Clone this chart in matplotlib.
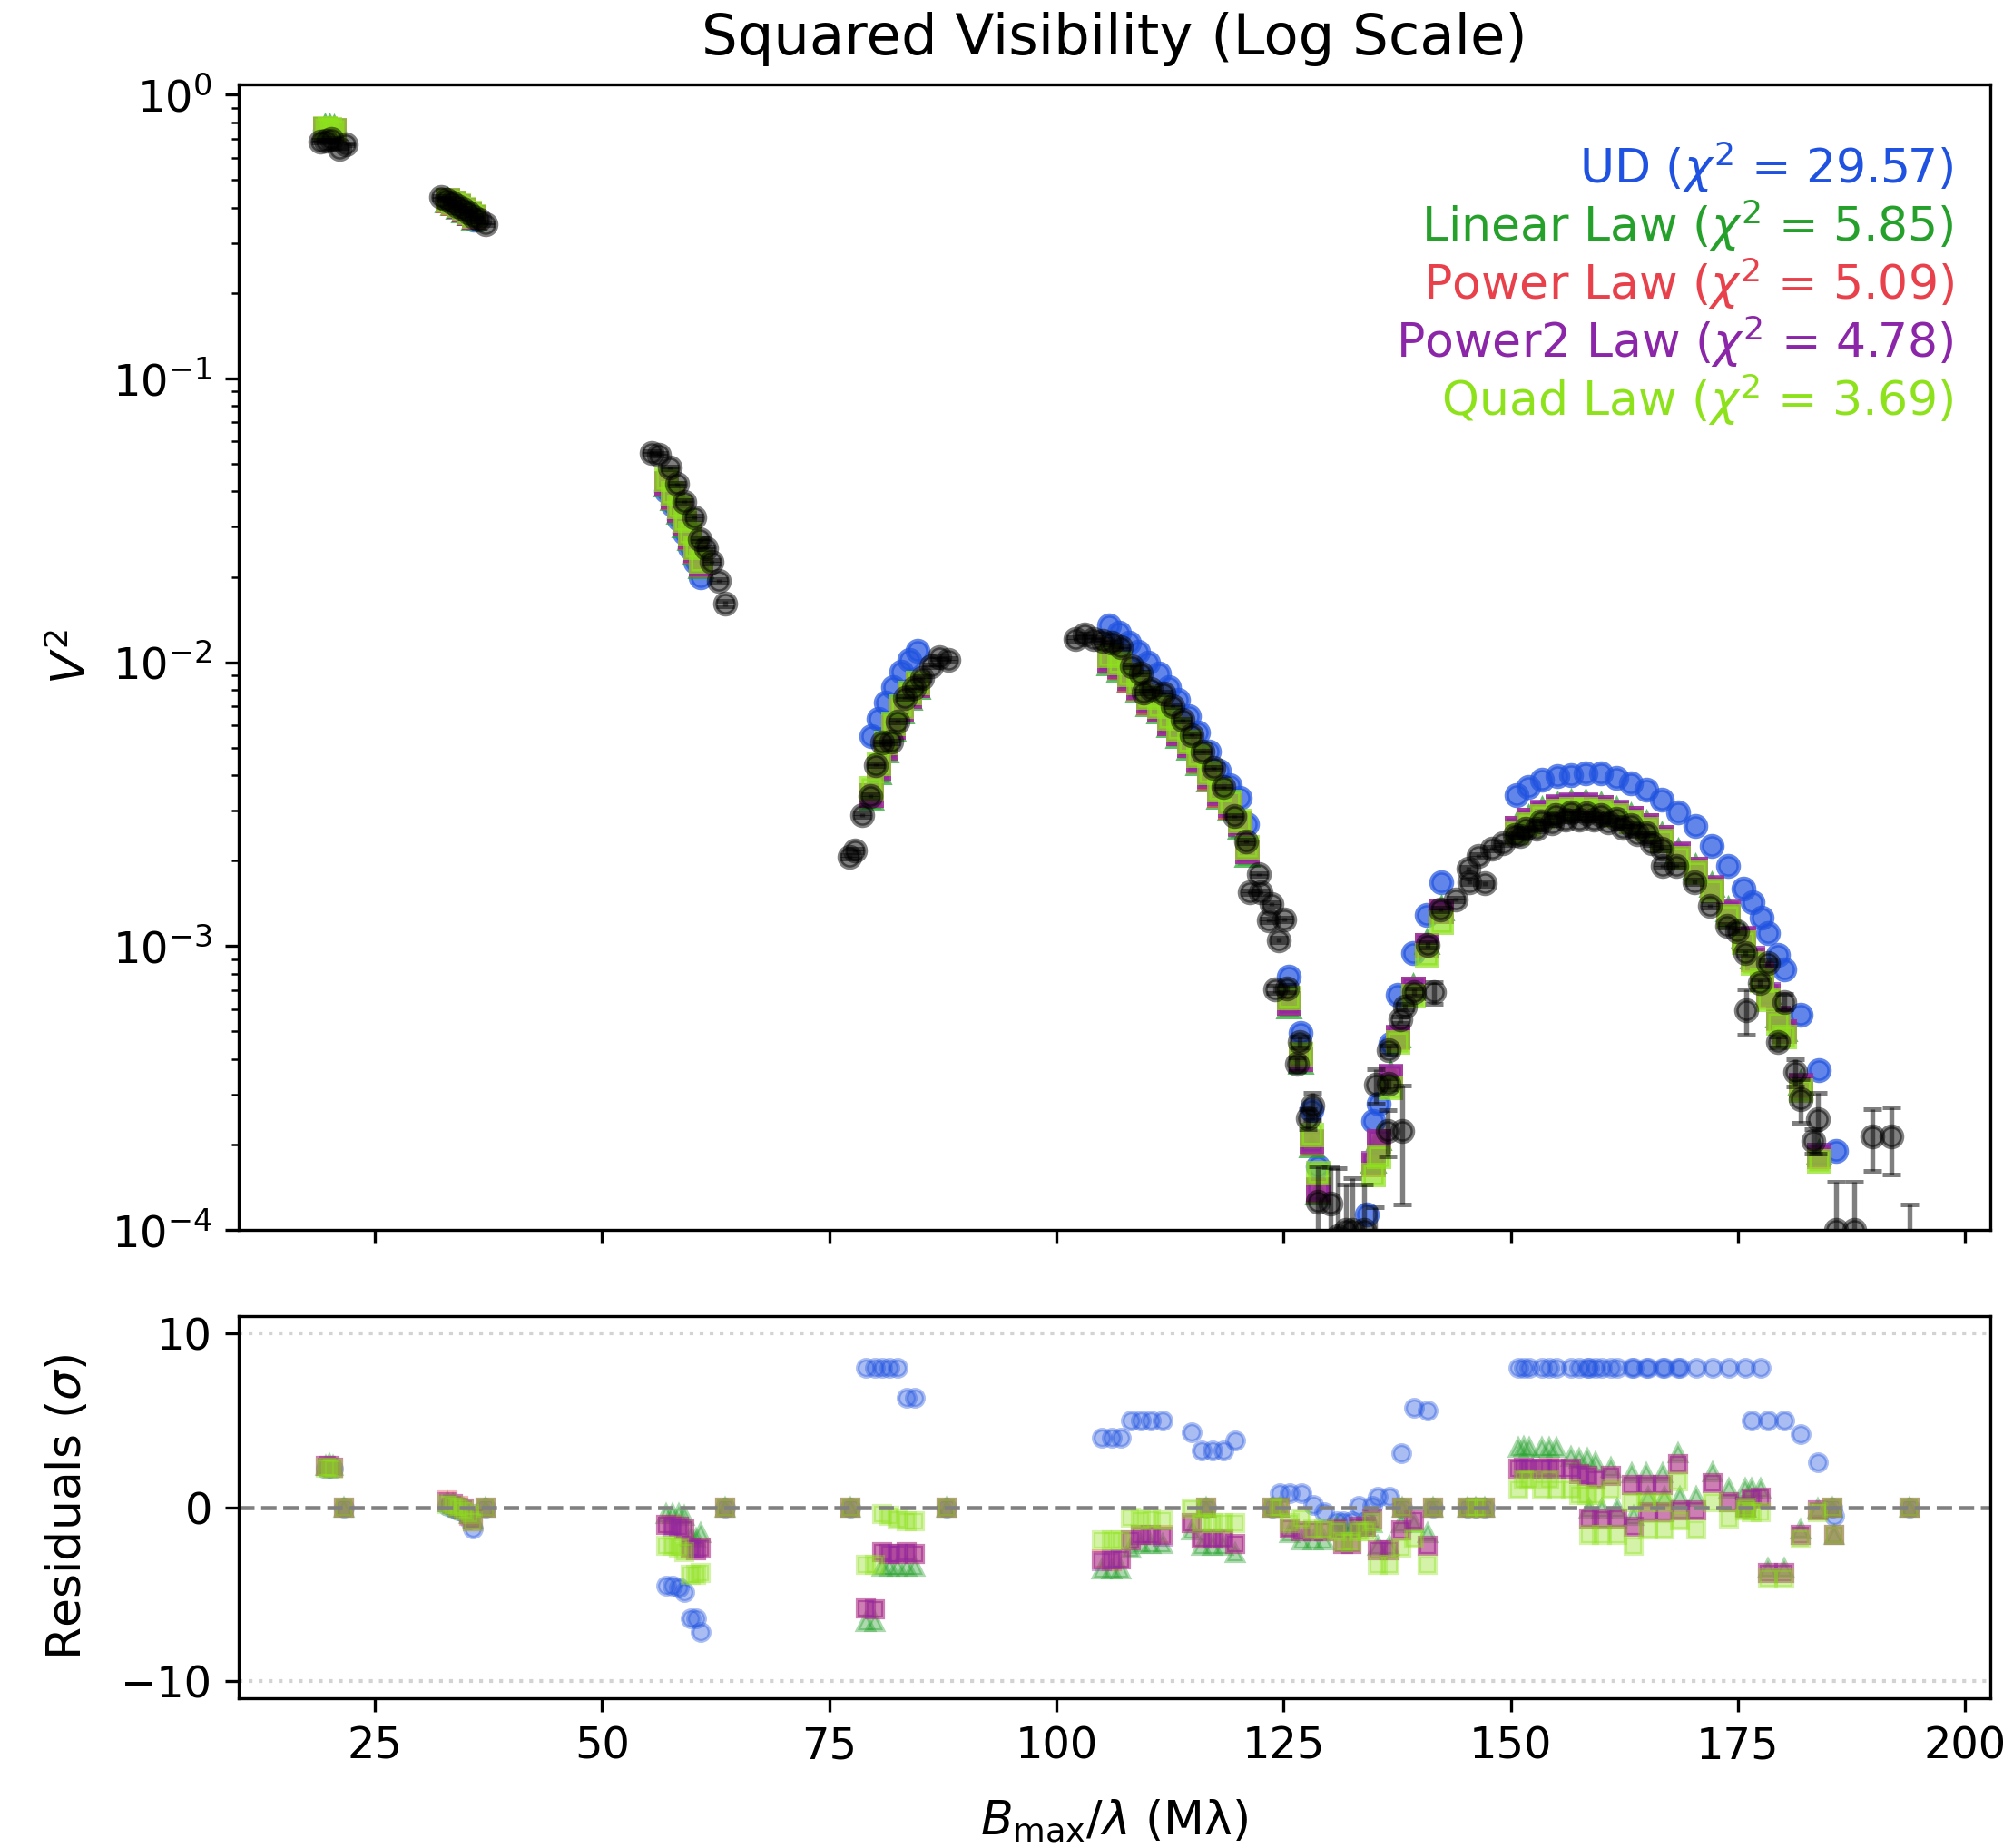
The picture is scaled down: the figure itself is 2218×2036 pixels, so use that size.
import numpy as np
import matplotlib
matplotlib.use("Agg")
import matplotlib.pyplot as plt

nan = np.nan

# observed squared visibilities (black points)
obs_x = [19.0, 19.6, 20.2, 21.1, 21.8,
         32.3, 32.9, 33.5, 34.1, 34.7, 35.3, 35.9, 36.5, 37.2,
         55.4, 56.2, 57.4, 58.2, 59.0, 60.1, 60.7, 61.4, 62.0, 62.8, 63.5,
         77.2, 77.8, 78.6, 79.5, 80.1, 80.8, 81.8, 82.5, 83.3, 84.3, 85.2, 86.2, 87.1, 88.1,
         102.1, 103.1, 104.1, 105.1, 106.1, 107.1, 108.3, 109.3, 109.6, 110.4,
         111.8, 112.8, 113.9, 114.9, 116.1, 117.3, 118.4, 119.6, 120.9,
         122.3, 121.3, 122.5, 123.7, 123.4, 125.1, 124.5, 124.1, 125.4,
         126.5, 126.8, 127.7, 128.2, 128.8, 130.2, 131.0, 131.9, 132.6, 133.9, 135.1,
         135.2, 136.5, 138.1, 136.6, 136.6, 137.9, 138.4, 139.4, 140.9, 141.6, 142.3, 143.9,
         145.3, 145.4, 146.4, 147.1, 147.9, 149.1, 150.4, 151.0, 151.6, 152.8,
         153.3, 154.5, 154.9, 156.0, 156.6, 157.5, 158.3, 159.1, 159.9, 160.7,
         161.6, 162.3, 163.2, 163.9, 164.9, 165.5, 166.6, 166.7, 168.2, 170.2,
         171.9, 173.8, 174.9, 175.8, 175.9, 177.4, 178.3, 179.4, 180.1, 181.3,
         181.9, 183.3, 183.8, 185.8, 187.8, 189.8, 191.9, 193.9]
obs_v2 = [0.686, 0.690, 0.700, 0.645, 0.670,
          0.435, 0.428, 0.418, 0.405, 0.395, 0.385, 0.372, 0.362, 0.350,
          0.0548, 0.0540, 0.0485, 0.0425, 0.0368, 0.0324, 0.0271, 0.0253, 0.0226, 0.0194, 0.0161,
          0.00206, 0.00217, 0.00290, 0.00338, 0.00435, 0.00520, 0.00525, 0.00620, 0.00750,
          0.00810, 0.00880, 0.00970, 0.01040, 0.01020,
          0.01208, 0.01250, 0.01210, 0.01190, 0.01170, 0.01128, 0.00970, 0.00916, 0.00783, 0.00805,
          0.00778, 0.00703, 0.00625, 0.00555, 0.00485, 0.00424, 0.00363, 0.00287, 0.00234,
          0.00179, 0.00155, 0.00155, 0.00141, 0.00123, 0.00124, 0.00105, 0.000705, 0.000710,
          0.000384, 0.000460, 0.000247, 0.000274, 0.000126, 0.000124, 0.000095, 0.000100,
          0.000100, 0.000100, 0.000080,
          0.000324, 0.000223, 0.000223, 0.000327, 0.000430, 0.000550, 0.000612, 0.000690,
          0.00101, 0.000687, 0.00135, 0.00146,
          0.00187, 0.00168, 0.00208, 0.00166, 0.00220, 0.00230, 0.00246, 0.00245, 0.00259, 0.00260,
          0.00274, 0.00270, 0.00289, 0.00278, 0.00297, 0.00280, 0.00293, 0.00280, 0.00289, 0.00272,
          0.00282, 0.00262, 0.00267, 0.00248, 0.00249, 0.00230, 0.00220, 0.00192, 0.00192, 0.00168,
          0.00139, 0.00118, 0.00113, 0.000946, 0.000596, 0.000741, 0.000872, 0.000459, 0.000637, 0.000360,
          0.000289, 0.000206, 0.000245, 0.000100, 0.000100, 0.000214, 0.000214, 0.000050]
obs_err = [0.006, 0.006, 0.006, 0.006, 0.006,
           0.004, 0.004, 0.004, 0.004, 0.004, 0.004, 0.004, 0.004, 0.004,
           0.0006, 0.0006, 0.0005, 0.0005, 0.0004, 0.0004, 0.0003, 0.0003, 0.0003, 0.0003, 0.0003,
           0.00003, 0.00003, 0.00004, 0.00004, 0.00005, 0.00006, 0.00006, 0.00007, 0.00008,
           0.00009, 0.0001, 0.0001, 0.00012, 0.00012,
           0.00014, 0.00014, 0.00014, 0.00014, 0.00013, 0.00013, 0.00011, 0.0001, 0.00009, 0.00009,
           0.00009, 0.00008, 0.00007, 0.00006, 0.00005, 0.00005, 0.00004, 0.00003, 0.00003,
           0.00002, 0.00002, 0.00002, 0.00002, 0.00002, 0.00002, 0.00002, 0.00002, 0.00002,
           0.00002, 0.00002, 0.00002, 0.00003, 0.000042, 0.000042, 0.00007, 0.000045,
           0.000052, 0.000045, 0.00004,
           0.000045, 0.000041, 0.0001, 0.000015, 0.000015, 0.000015, 0.000015, 0.00002,
           0.00002, 0.00006, 0.00002, 0.00002,
           0.00003, 0.00003, 0.00003, 0.00003, 0.00003, 0.00003, 0.00003, 0.00003, 0.00003, 0.00003,
           0.00003, 0.00003, 0.00003, 0.00003, 0.00003, 0.00003, 0.00003, 0.00003, 0.00003, 0.00003,
           0.00003, 0.00003, 0.00003, 0.00003, 0.00003, 0.00003, 0.00003, 0.00003, 0.00003, 0.00003,
           0.00002, 0.00002, 0.00002, 0.00002, 0.00011, 0.00002, 0.00002, 0.00002, 0.00004, 0.00004,
           0.00005, 0.00002, 0.00006, 0.000048, 0.000048, 0.000053, 0.000057, 0.000073]

# model V^2 at the fitted baselines
fit_x = [19.5, 20.0, 20.5,
         33.0, 33.6, 34.2, 34.8, 35.4, 35.9,
         57.0, 57.7, 58.4, 59.0, 59.6, 60.2, 60.8,
         79.6, 80.4, 81.2, 82.0, 82.9, 83.8, 84.7,
         105.8, 106.9, 108.0, 109.0, 110.1, 111.3, 112.4, 113.4, 114.6, 115.6,
         116.8, 117.9, 119.1, 120.2, 121.0,
         125.6, 126.9, 128.1, 128.8, 134.2,
         134.9, 135.5, 136.8, 137.6, 139.3, 140.8, 142.4,
         150.6, 151.9, 153.4, 155.1, 156.6, 158.2, 159.9, 161.6, 163.2, 164.9, 166.6, 168.4,
         170.3, 172.1, 173.9, 175.6, 176.6, 177.6, 178.3, 179.4, 180.1, 181.9, 183.9, 185.8]
ud_v2 = [0.745, 0.740, 0.735,
         0.420, 0.410, 0.399, 0.388, 0.376, 0.363,
         0.0400, 0.0358, 0.0320, 0.0286, 0.0254, 0.0226, 0.0200,
         0.0055, 0.0063, 0.0072, 0.0082, 0.0093, 0.0102, 0.0110,
         0.01345, 0.0127, 0.01175, 0.0109, 0.0100, 0.00916, 0.00819, 0.0074, 0.00646, 0.00564,
         0.00485, 0.00416, 0.0037, 0.00334, 0.00268,
         0.00078, 0.000494, 0.000264, 0.000168, 0.000113,
         0.000242, 0.000278, 0.000454, 0.000673, 0.000946, 0.00129, 0.00168,
         0.0034, 0.00364, 0.00385, 0.00396, 0.00401, 0.00407, 0.00407, 0.00391, 0.00375, 0.00355, 0.00327, 0.00297,
         0.00265, 0.00226, 0.00192, 0.00159, 0.00143, 0.00126, 0.00111, 0.00093, 0.000826, 0.000572, 0.000365, 0.00019]
lin_v2 = [0.772, 0.767, 0.762,
          0.424, 0.414, 0.403, 0.392, 0.381, 0.369,
          0.0422, 0.0378, 0.0340, 0.0304, 0.0273, 0.0244, 0.0218,
          0.0033, 0.0041, 0.0049, 0.0058, 0.0067, 0.0075, 0.0082,
          0.0099, 0.0094, 0.0086, 0.0080, 0.0071, 0.0067, 0.0060, 0.0055, 0.0050, 0.0044,
          0.00385, 0.00336, 0.00305, 0.00262, 0.0021,
          0.00061, 0.00039, 0.000198, 0.000135, nan,
          0.000175, 0.00021, 0.000355, 0.000485, 0.00072, 0.00103, 0.00136,
          0.00266, 0.00283, 0.00302, 0.00315, 0.0032, 0.0032, 0.00314, 0.00302, 0.00287, 0.0027, 0.00246, 0.00215,
          0.0019, 0.00164, 0.00135, 0.00108, 0.00092, 0.00081, 0.00069, 0.00057, 0.00051, 0.00033, 0.000187, nan]
pow_v2 = [0.758, 0.753, 0.748,
          0.425, 0.415, 0.404, 0.393, 0.382, 0.370,
          0.0426, 0.0382, 0.0343, 0.0307, 0.0276, 0.0247, 0.0221,
          0.0034, 0.0042, 0.0050, 0.0059, 0.0068, 0.0076, 0.0083,
          0.0101, 0.0096, 0.0087, 0.0081, 0.0072, 0.0068, 0.0061, 0.0056, 0.0051, 0.0045,
          0.0039, 0.0034, 0.0031, 0.0027, 0.00215,
          0.00063, 0.0004, 0.000204, 0.000138, nan,
          0.00017, 0.000205, 0.000348, 0.000478, 0.000708, 0.00101, 0.00133,
          0.00261, 0.00278, 0.00297, 0.0031, 0.00315, 0.00315, 0.00309, 0.00297, 0.00283, 0.00266, 0.00242, 0.00211,
          0.00187, 0.00161, 0.00132, 0.00106, 0.0009, 0.00079, 0.00067, 0.000555, 0.0005, 0.000322, 0.000182, nan]
pow2_v2 = [0.760, 0.755, 0.750,
           0.426, 0.416, 0.405, 0.394, 0.383, 0.371,
           0.0428, 0.0384, 0.0345, 0.0309, 0.0277, 0.0248, 0.0222,
           0.0034, 0.0042, 0.0050, 0.0059, 0.0068, 0.0076, 0.0083,
           0.0102, 0.0097, 0.0088, 0.0082, 0.0073, 0.0068, 0.0061, 0.0056, 0.0051, 0.00455,
           0.00397, 0.00346, 0.00313, 0.00268, 0.00216,
           0.00063, 0.0004, 0.000205, 0.000139, nan,
           0.000172, 0.000206, 0.00035, 0.00048, 0.00071, 0.00101, 0.00133,
           0.00262, 0.00279, 0.00298, 0.00311, 0.00316, 0.00316, 0.0031, 0.00298, 0.00284, 0.00267, 0.00243, 0.00212,
           0.00188, 0.00162, 0.00133, 0.00107, 0.00091, 0.0008, 0.00068, 0.00056, 0.000502, 0.000325, 0.000184, nan]
quad_v2 = [0.765, 0.760, 0.755,
           0.428, 0.418, 0.407, 0.396, 0.385, 0.373,
           0.0440, 0.0395, 0.0355, 0.0318, 0.0285, 0.0255, 0.0228,
           0.0036, 0.0044, 0.0052, 0.0061, 0.0070, 0.0078, 0.0085,
           0.01055, 0.0100, 0.00906, 0.00847, 0.00752, 0.00703, 0.00635, 0.00583, 0.00527, 0.00469,
           0.00409, 0.00357, 0.00323, 0.00277, 0.00223,
           0.00066, 0.000418, 0.000216, 0.000159, nan,
           0.000157, 0.000182, 0.000318, 0.000459, 0.00067, 0.00093, 0.00121,
           0.00252, 0.00268, 0.00287, 0.0030, 0.00305, 0.00305, 0.0030, 0.00289, 0.00275, 0.00259, 0.00235, 0.00205,
           0.00182, 0.00157, 0.00128, 0.00103, 0.00087, 0.00076, 0.00065, 0.000535, 0.000479, 0.00031, 0.000175, nan]

# residuals in sigma (clipped at 8), flagged points sit at 0
res_x = [19.6, 20.0, 20.4, 21.6,
         33.0, 33.6, 34.2, 34.8, 35.4, 35.8, 37.2,
         57.0, 57.7, 58.4, 59.0, 59.7, 60.3, 60.8, 63.5,
         77.3, 79.0, 80.0, 80.8, 81.6, 82.5, 83.5, 84.4, 87.9,
         105.0, 106.1, 107.1, 108.2, 109.3, 110.4, 111.7, 114.9, 116.0, 116.5, 117.2, 118.4, 119.7,
         123.8, 124.6, 125.7, 127.0, 128.3, 129.5,
         130.9, 131.6, 132.5, 133.3, 134.1, 134.8, 135.4, 136.7, 138.0, 138.1, 139.4, 140.9, 141.5,
         145.2, 146.1, 147.1,
         150.8, 151.4, 152.0, 153.4, 154.2, 155.0, 156.6, 157.5, 158.4, 158.6,
         159.3, 160.0, 161.0, 161.7, 163.3, 163.5, 164.9, 165.1, 166.7, 166.9,
         168.4, 168.6, 170.4, 172.2, 174.0, 175.8, 175.9, 176.5, 177.5, 178.3,
         180.1, 181.9, 183.8, 185.4, 185.6, 193.9]
res_ud = [2.2, 2.3, 2.2, 0,
          0.1, 0.0, -0.2, -0.3, -0.7, -1.2, 0,
          -4.5, -4.5, -4.6, -4.9, -6.4, -6.4, -7.2, 0,
          0, 8, 8, 8, 8, 8, 6.3, 6.3, 0,
          4.0, 4.0, 4.0, 5.0, 5.0, 5.0, 5.0, 4.3, 3.25, 0, 3.25, 3.25, 3.85,
          0, 0.8, 0.8, 0.8, 0.15, -0.3,
          -0.8, -0.8, -0.8, 0.1, -0.8, 0.1, 0.6, 0.6, 3.1, 0, 5.7, 5.55, 0,
          0, 0, 0,
          8, 8, 8, 8, 8, 8, 8, 8, 8, 8,
          8, 8, 8, 8, 8, 8, 8, 8, 8, 8,
          8, 8, 8, 8, 8, 8, 0, 5.0, 8, 5.0,
          5.0, 4.2, 2.6, 0, -0.5, 0]
res_lin = [2.4, 2.5, 2.4, 0,
           0.3, 0.2, 0.0, -0.1, -0.4, -0.7, 0,
           -0.4, -0.4, -0.4, -0.5, -1.7, -1.8, -1.5, 0,
           0, -6.6, -6.6, -3.4, -3.4, -3.4, -3.4, -3.4, 0,
           -3.6, -3.6, -3.6, -2.4, -2.1, -2.1, -2.1, -1.35, -2.2, 0, -2.2, -2.2, -2.65,
           0, 0, -1.5, -1.9, -1.9, -1.9,
           -1.1, -1.2, -1.2, -1.1, -1.1, -0.9, -2.2, -2.2, -0.9, 0, -0.9, -1.5, 0,
           0, 0, 0,
           3.4, 3.5, 3.4, 3.4, 3.4, 3.4, 2.9, 2.8, 2.8, -0.1,
           2.6, -0.1, 2.3, -0.1, 1.95, -0.5, 1.95, 0.6, 1.95, 0.6,
           3.1, 0.6, 0.6, 2.0, 1.1, 1.1, 0, 1.1, 1.1, -3.5,
           -3.5, -1.3, -0.1, 0, -1.6, 0]
res_pow = [2.4, 2.4, 2.3, 0,
           0.4, 0.2, 0.1, -0.1, -0.5, -0.8, 0,
           -1.0, -1.0, -1.1, -1.3, -2.4, -2.5, -2.3, 0,
           0, -5.8, -5.9, -2.6, -2.7, -2.7, -2.6, -2.7, 0,
           -3.0, -3.1, -3.0, -1.9, -1.6, -1.6, -1.6, -0.9, -1.8, 0, -1.8, -1.8, -2.1,
           0, 0, -1.2, -1.4, -1.4, -1.4,
           -1.2, -2.1, -2.1, -1.1, -1.1, -0.7, -2.5, -2.5, -1.35, 0, -0.75, -2.2, 0,
           0, 0, 0,
           2.2, 2.3, 2.2, 2.2, 2.3, 2.2, 2.2, 1.9, 1.8, -0.66,
           1.6, -0.7, 1.8, -0.66, 1.3, -1.1, 1.3, -0.3, 1.3, -0.3,
           2.5, -0.2, -0.2, 1.4, 0.3, 0.05, 0, 0.5, 0.55, -3.8,
           -3.8, -1.6, -0.2, 0, -1.6, 0]
res_pow2 = [2.4, 2.4, 2.3, 0,
            0.3, 0.2, 0.0, -0.1, -0.4, -0.7, 0,
            -1.0, -1.1, -1.1, -1.3, -2.3, -2.5, -2.4, 0,
            0, -5.8, -5.9, -2.6, -2.7, -2.7, -2.6, -2.7, 0,
            -3.1, -3.0, -3.0, -1.9, -1.6, -1.6, -1.7, -0.9, -1.8, 0, -1.8, -1.8, -2.1,
            0, 0, -1.2, -1.4, -1.4, -1.4,
            -1.2, -2.1, -2.1, -1.1, -1.1, -0.7, -2.5, -2.5, -1.35, 0, -0.75, -2.2, 0,
            0, 0, 0,
            2.2, 2.3, 2.2, 2.2, 2.2, 2.2, 2.2, 1.9, 1.8, -0.66,
            1.6, -0.7, 1.8, -0.66, 1.3, -1.1, 1.3, -0.3, 1.3, -0.3,
            2.5, -0.2, -0.2, 1.4, 0.3, 0.05, 0, 0.5, 0.55, -3.8,
            -3.8, -1.6, -0.2, 0, -1.6, 0]
res_quad = [2.3, 2.3, 2.2, 0,
            0.2, 0.1, 0.0, -0.2, -0.4, -0.8, 0,
            -2.2, -2.2, -2.3, -2.6, -3.9, -3.9, -3.8, 0,
            0, -3.3, -3.3, -0.4, -0.5, -0.7, -0.8, -0.8, 0,
            -1.9, -1.9, -1.9, -0.6, -0.75, -0.7, -0.75, -0.05, -0.9, 0, -0.9, -0.9, -0.9,
            0, 0, -0.9, -0.66, -1.3, -1.3,
            -1.4, -2.0, -2.0, -1.4, -1.4, -0.8, -3.3, -3.3, -2.3, 0, -1.8, -3.3, 0,
            0, 0, 0,
            1.0, 1.6, 1.6, 1.0, 1.6, 1.0, 1.0, 0.7, 0.7, -1.6,
            0.7, -1.6, 1.0, -1.6, 0.3, -2.2, 0.3, -1.3, 0.3, -1.3,
            1.5, -0.75, -1.3, 0.3, -0.66, -0.2, 0, -0.3, -0.3, -4.1,
            -4.1, -1.8, -0.3, 0, -1.6, 0]

model_names = ['UD', 'Linear Law', 'Power Law', 'Power2 Law', 'Quad Law']
chi2 = [29.57, 5.85, 5.09, 4.78, 3.69]
colors = ['#1f52e0', '#25a02b', '#e8414b', '#8b26a8', '#8ee21c']
markers = ['o', '^', 's', 's', 's']


def plot(ax, axr):
    models = [ud_v2, lin_v2, pow_v2, pow2_v2, quad_v2]
    resids = [res_ud, res_lin, res_pow, res_pow2, res_quad]

    # top panel: models then data on top
    for v2, c, m in zip(models, colors, markers):
        ax.plot(fit_x, v2, ls='none', marker=m, color=c, ms=5.4, mew=1.2, alpha=0.7)
    ax.errorbar(obs_x, obs_v2, yerr=obs_err, fmt='o', color='k', ecolor='k', ms=5.4, mew=1.2,
                alpha=0.5, capsize=2.5, elinewidth=1.3, capthick=1.3, zorder=5)

    ax.set_yscale('log')
    ax.set_ylim(1e-4, 1.087)
    ax.set_xlim(10.0, 202.8)
    ax.set_ylabel('$V^2$', fontsize=12.5)
    ax.set_title('Squared Visibility (Log Scale)', fontsize=15, pad=8)
    ax.tick_params(labelbottom=False, labelsize=11.5)

    # chi2 annotations, one colored line per model
    for i, (name, chi, c) in enumerate(zip(model_names, chi2, colors)):
        ax.text(0.979, 0.928 - 0.0508 * i, f'{name} ($\\chi^2$ = {chi:.2f})',
                transform=ax.transAxes, ha='right', va='center', color=c, fontsize=12.5)

    # bottom panel: residuals
    for r, c, m in zip(resids, colors, markers):
        axr.plot(res_x, r, ls='none', marker=m, color=c, ms=4.5, alpha=0.38)
    axr.axhline(0, color='gray', ls='--', lw=1.1)
    axr.axhline(10, color='lightgray', ls=':', lw=1.0)
    axr.axhline(-10, color='lightgray', ls=':', lw=1.0)
    axr.set_ylim(-11, 11)
    axr.set_yticks([-10, 0, 10])
    axr.set_ylabel('Residuals ($\\sigma$)', fontsize=12.5, labelpad=8)
    axr.set_xlabel('$B_{\\mathrm{max}}/\\lambda$ (M\u03bb)', fontsize=12.5, labelpad=8)
    axr.tick_params(labelsize=11.5)


def main():
    fig = plt.figure(figsize=(2218 / 300, 2036 / 300), dpi=300)
    ax = fig.add_axes([0.1186, 0.3345, 0.8702, 0.6198])
    axr = fig.add_axes([0.1186, 0.0810, 0.8702, 0.2068], sharex=ax)
    plot(ax, axr)
    fig.savefig('out.png', dpi=300)


if __name__ == "__main__":
    main()
